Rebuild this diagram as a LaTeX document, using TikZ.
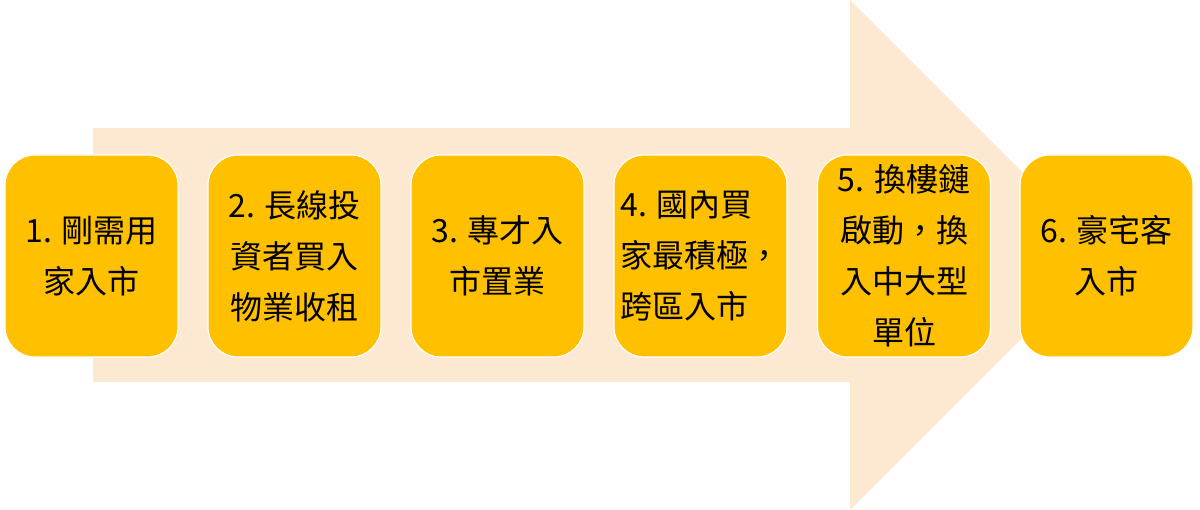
\documentclass[tikz,border=0pt]{standalone}
\usepackage{fontspec}
\newfontfamily\cjk{Noto Sans CJK TC}
\definecolor{peach}{HTML}{FDE9D2}
\definecolor{gold}{HTML}{FFC000}
\begin{document}
\begin{tikzpicture}[x=1pt,y=1pt,
  stagebox/.style={draw=white,line width=1.2pt,fill=gold,rounded corners=30pt,
    minimum width=173pt,minimum height=202pt,inner sep=0pt,align=center,
    font=\cjk\fontsize{32}{51}\selectfont,text=black}]
\useasboundingbox (0,0) rectangle (1200,510);
% big arrow (ref y -> 510-y)
\fill[peach] (93,382) -- (850,382) -- (850,510) -- (1105,255) -- (850,0) -- (850,128) -- (93,128) -- cycle;
\node[stagebox] (s1) at (91.5,254) {1. 剛需用\\家入市};
\node[stagebox] (s2) at (294.5,254) {2. 長線投\\資者買入\\物業收租};
\node[stagebox] (s3) at (497.5,254) {3. 專才入\\市置業};
\node[stagebox,align=left] (s4) at (700.5,254) {4. 國內買\\家最積極，\\跨區入市};
\node[stagebox] (s5) at (904,254) {5. 換樓鏈\\啟動，換\\入中大型\\單位};
\node[stagebox] (s6) at (1106.5,254) {6. 豪宅客\\入市};
\end{tikzpicture}
\end{document}
